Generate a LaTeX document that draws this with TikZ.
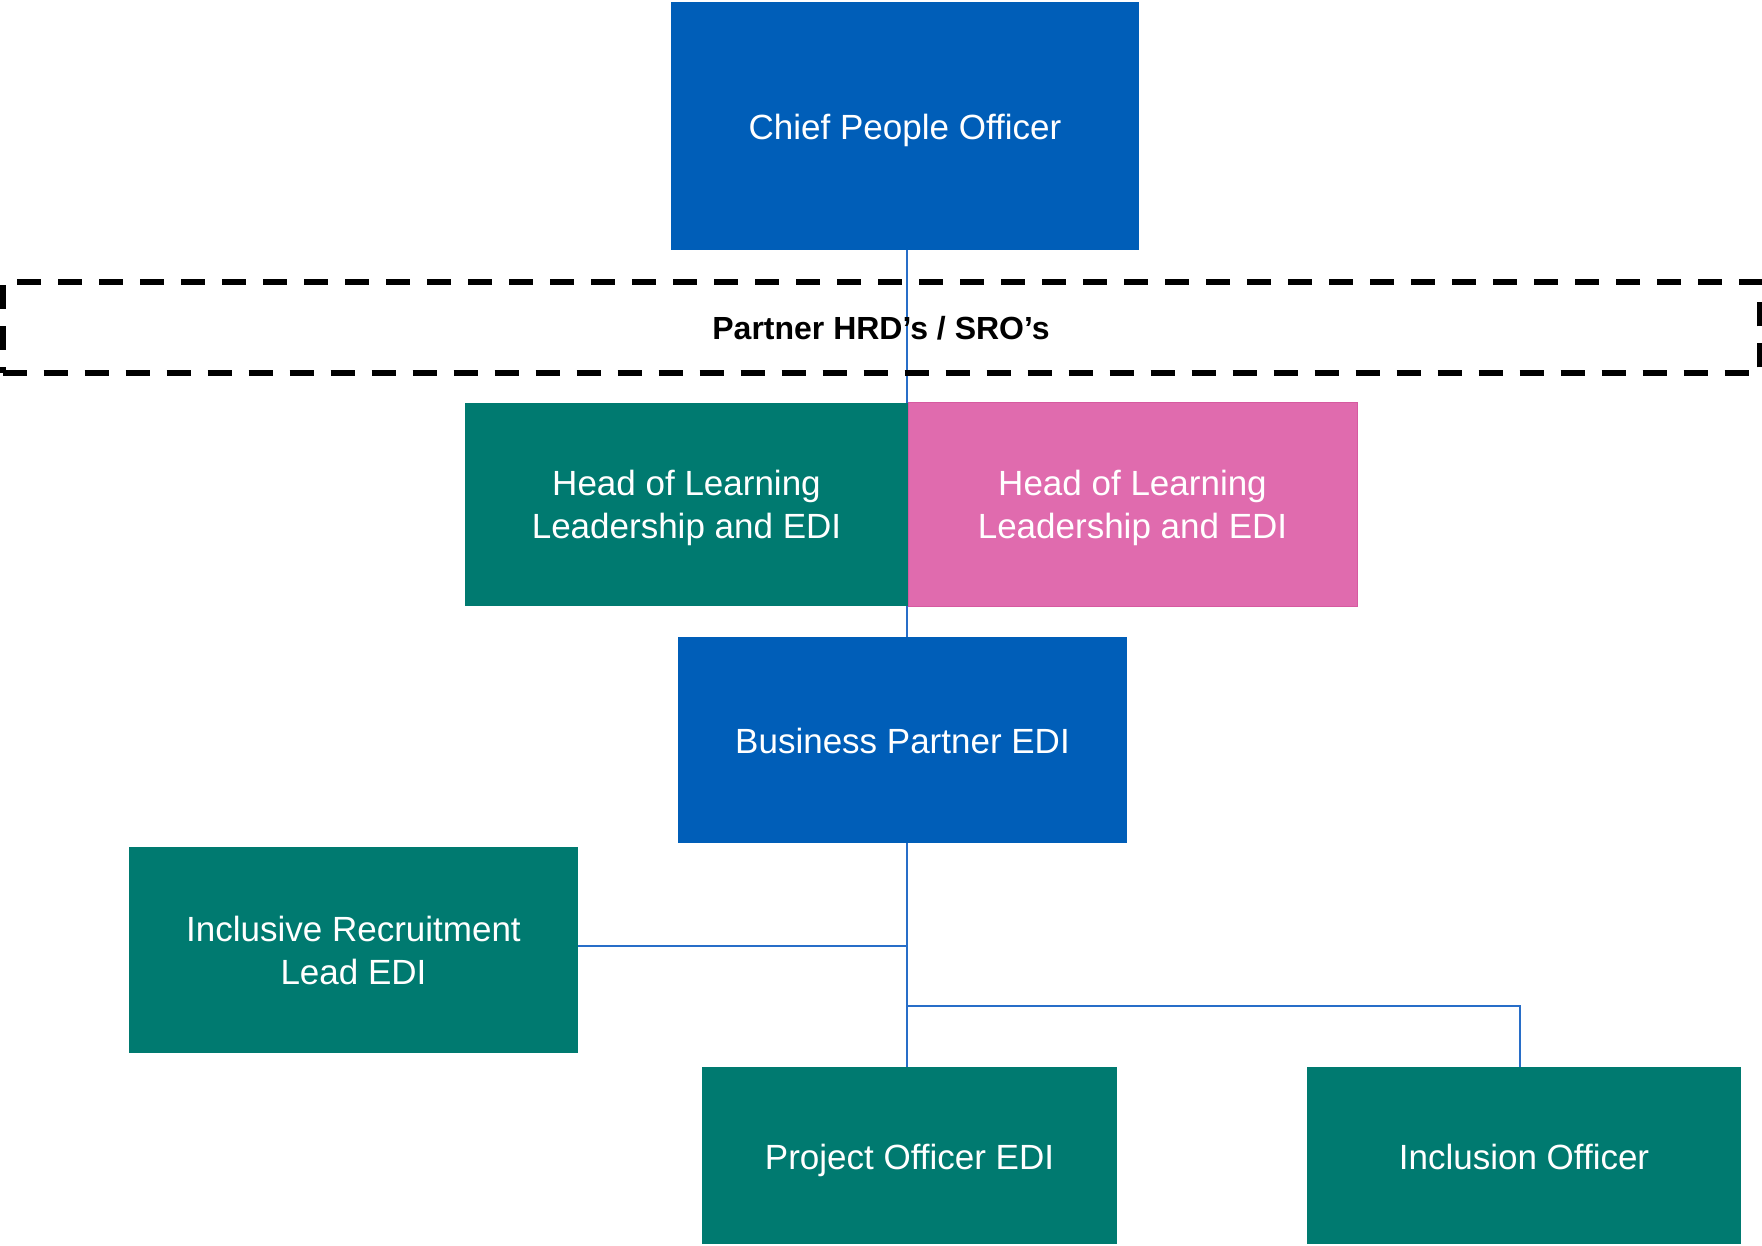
\documentclass[tikz,border=0pt]{standalone}
\usepackage{fontspec}
\setmainfont{Liberation Sans}
\definecolor{nhsblue}{RGB}{0,94,184}
\definecolor{tealbox}{RGB}{0,122,112}
\definecolor{pinkbox}{RGB}{224,107,174}
\definecolor{pinkedge}{RGB}{214,90,160}
\definecolor{connblue}{RGB}{40,110,200}
\newcommand{\mytwoline}[2]{\rule{0pt}{35pt}#1\\#2\rule[-10pt]{0pt}{10pt}}
\begin{document}
\begin{tikzpicture}[x=1pt,y=-1pt,
  box/.style={rectangle,inner sep=0pt,outer sep=0pt,text=white,align=center,
    font=\fontsize{35}{43}\selectfont,
    execute at begin node={\rule{0pt}{35pt}},
    execute at end node={\rule[-8pt]{0pt}{8pt}}},
  bluebox/.style={box,fill=nhsblue},
  tealb/.style={box,fill=tealbox},
  pinkb/.style={box,fill=pinkbox,draw=pinkedge,line width=1pt},
  conn/.style={draw=connblue,line width=1.6pt},
  dashbox/.style={rectangle,inner sep=0pt,draw=black,line width=6pt,
    dash pattern=on 24pt off 17pt,font=\fontsize{32}{38}\selectfont\bfseries}]
\useasboundingbox (0,0) rectangle (1762,1246);
\fill[white] (0,0) rectangle (1762,1246);

\coordinate (vx) at (907,0);
\coordinate (h1) at (907,946);
\coordinate (j) at (907,1006);
\coordinate (j2) at (1520,1006);

% nodes
\node[bluebox,minimum width=468pt,minimum height=248pt] (chief) at (905,126) {Chief People Officer};
\node[tealb,minimum width=443pt,minimum height=203pt] (headg) at (686.5,504.5) {\mytwoline{Head of Learning}{Leadership and EDI}};
\node[pinkb,minimum width=449pt,minimum height=203pt] (headp) at (1132.5,504.5) {\mytwoline{Head of Learning}{Leadership and EDI}};
\node[bluebox,minimum width=449pt,minimum height=206pt] (bp) at (902.5,740) {Business Partner EDI};
\node[tealb,minimum width=449pt,minimum height=206pt] (increc) at (353.5,950) {\mytwoline{Inclusive Recruitment}{Lead EDI}};
\node[tealb,minimum width=415pt,minimum height=177pt] (proj) at (909.5,1155.5) {Project Officer EDI};
\node[tealb,minimum width=434pt,minimum height=177pt] (incl) at (1524,1155.5) {Inclusion Officer};

% connectors
\draw[conn] (chief.south -| vx) -- (headg.north -| vx);
\draw[conn] (headg.south -| vx) -- (bp.north -| vx);
\draw[conn] (bp.south -| vx) -- (proj.north -| vx);
\draw[conn] (h1 -| increc.east) -- (h1);
\draw[conn] (j) -- (j2) -- (j2 |- incl.north);

% dashed partner box
\node[dashbox,minimum width=1757pt,minimum height=91pt] (partner) at (881,328) {Partner HRD’s / SRO’s};
\end{tikzpicture}
\end{document}
